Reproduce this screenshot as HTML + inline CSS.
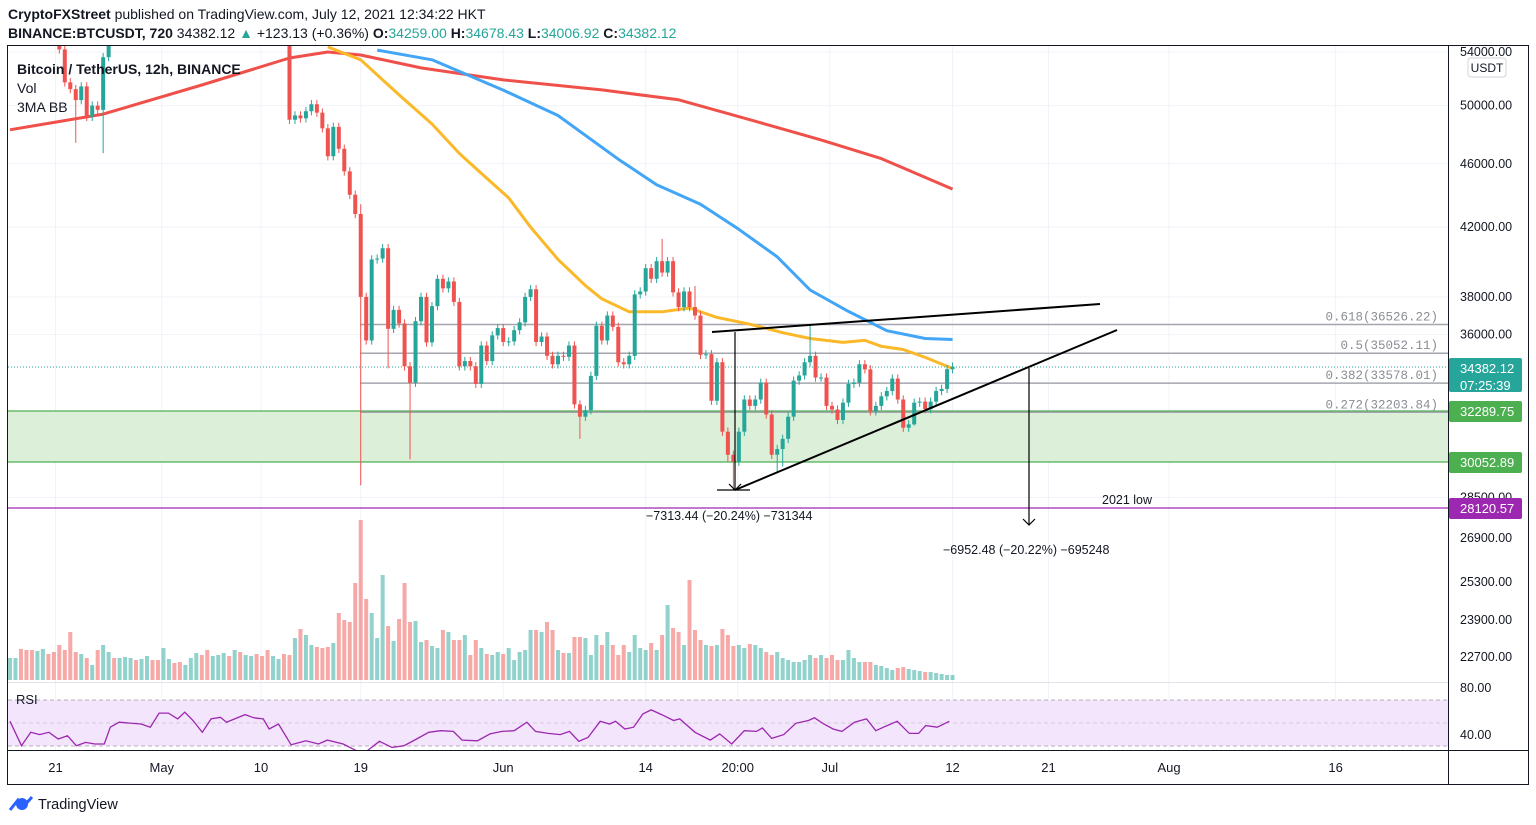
<!DOCTYPE html>
<html><head><meta charset="utf-8"><style>
body{margin:0;background:#fff;width:1536px;height:825px;overflow:hidden;font-family:"Liberation Sans",sans-serif}
svg{display:block}
</style></head><body>
<svg id="c" width="1536" height="825" viewBox="0 0 1536 825" xmlns="http://www.w3.org/2000/svg">
<defs><clipPath id="pc"><rect x="8" y="46" width="1440" height="636"/></clipPath>
<clipPath id="rc"><rect x="8" y="684" width="1440" height="66"/></clipPath></defs>
<text x="8" y="19" font-size="14" fill="#131722"><tspan font-weight="bold">CryptoFXStreet</tspan> published on TradingView.com, July 12, 2021 12:34:22 HKT</text>
<text x="8" y="38" font-size="14" fill="#131722"><tspan font-weight="bold">BINANCE:BTCUSDT, 720</tspan> 34382.12 <tspan fill="#26a69a">▲</tspan> +123.13 (+0.36%) <tspan font-weight="bold">O:</tspan><tspan fill="#26a69a">34259.00</tspan> <tspan font-weight="bold">H:</tspan><tspan fill="#26a69a">34678.43</tspan> <tspan font-weight="bold">L:</tspan><tspan fill="#26a69a">34006.92</tspan> <tspan font-weight="bold">C:</tspan><tspan fill="#26a69a">34382.12</tspan></text>
<g id="grid"></g>
<rect x="8" y="411" width="1440" height="51" fill="#dcefd9"/>
<line x1="8" y1="411" x2="1448" y2="411" stroke="#4caf50" stroke-width="1.2"/>
<line x1="8" y1="462" x2="1448" y2="462" stroke="#4caf50" stroke-width="1.2"/>
<g id="vol" clip-path="url(#pc)"></g>
<g id="fib"></g>
<line x1="8" y1="508" x2="1448" y2="508" stroke="#9c27b0" stroke-width="1.2"/>
<line x1="8" y1="367" x2="1448" y2="367" stroke="#26a69a" stroke-width="1" stroke-dasharray="1,2"/>
<g id="ma" clip-path="url(#pc)"></g>
<g id="candles" clip-path="url(#pc)"></g>
<g stroke="#000" stroke-width="2">
<line x1="712" y1="332" x2="1100" y2="304"/><line x1="735" y1="490" x2="1117" y2="330"/></g>
<g stroke="#000" stroke-width="1.2" fill="none">
<line x1="735" y1="332" x2="735" y2="490"/><line x1="717" y1="490" x2="750" y2="490"/><polyline points="729,484 735,490 741,484"/></g>
<text x="646" y="520" font-size="12.5" fill="#131722">−7313.44 (−20.24%) −731344</text>
<g stroke="#000" stroke-width="1.2" fill="none">
<line x1="1029" y1="368" x2="1029" y2="525"/><polyline points="1023,519 1029,525 1035,519"/></g>
<text x="943" y="554" font-size="12.5" fill="#131722">−6952.48 (−20.22%) −695248</text>
<text x="1102" y="504" font-size="12.5" fill="#131722">2021 low</text>
<g id="rsi">
<rect x="8" y="700" width="1440" height="46" fill="#f3e5fc"/>
<line x1="8" y1="700" x2="1448" y2="700" stroke="#b5b0b8" stroke-dasharray="4,3"/>
<line x1="8" y1="723" x2="1448" y2="723" stroke="#d5c9dc" stroke-dasharray="4,3"/>
<line x1="8" y1="746" x2="1448" y2="746" stroke="#b5b0b8" stroke-dasharray="4,3"/>
<text x="16" y="704" font-size="13" fill="#131722">RSI</text></g>
<g id="rsiLine" clip-path="url(#rc)"></g>
<text x="17" y="74" font-size="14" font-weight="bold" fill="#131722">Bitcoin / TetherUS, 12h, BINANCE</text>
<text x="17" y="93" font-size="14" fill="#131722">Vol</text>
<text x="17" y="112" font-size="14" fill="#131722">3MA BB</text>
<rect x="7.5" y="45.5" width="1521" height="739" fill="none" stroke="#131722"/>
<line x1="1448.5" y1="45" x2="1448.5" y2="785" stroke="#131722"/>
<line x1="8" y1="750.5" x2="1529" y2="750.5" stroke="#131722"/>
<line x1="8" y1="682.5" x2="1448" y2="682.5" stroke="#e0e3eb"/>
<g id="yaxis" font-size="12.5" fill="#131722"></g>
<rect x="1468" y="58" width="38" height="19" rx="3" fill="#fff" stroke="#d1d4dc"/>
<text x="1487" y="72" font-size="12" text-anchor="middle" fill="#131722">USDT</text>
<g id="tags" font-size="13" fill="#fff"></g>
<g id="xaxis" font-size="13" fill="#131722" text-anchor="middle"></g>
<g><circle cx="22" cy="804" r="6" fill="#2962ff"/><path d="M10 810 L18 800 L24 806 L32 797" stroke="#2962ff" stroke-width="3" fill="none"/>
<text x="38" y="809" font-size="14.5" fill="#131722">TradingView</text></g>
</svg>
<script>
const closes=[60000,61500,60500,56500,55500,56000,56500,56000,55500,54200,51700,51200,50400,51400,49200,50000,49700,53600,55500,54800,
55500,56500,57000,56800,57500,58000,57200,56800,57800,58200,57500,56500,57000,57500,58000,57300,56500,57000,57800,58500,
58000,58000,57000,57800,58200,57500,56500,55500,56000,57500,56000,
49000,49300,49100,49600,50100,49500,48400,46500,48500,47000,45500,44000,42800,
38000,35700,40100,40150,40750,36300,37300,36580,34400,33600,36700,38000,35600,37500,39000,38470,38850,37730,34400,34660,
34400,33540,35440,34660,35960,36340,35620,35650,36230,36640,38000,38420,35620,35900,34920,34500,34920,34870,35440,32570,
32000,32300,33930,36460,35700,37000,36400,34600,34500,34920,38140,38300,39600,39000,40000,39350,40000,38250,37450,38300,
37450,37000,34970,35000,32740,34600,31320,30300,30000,31320,32800,32500,32800,33600,32100,30300,30550,31000,32000,33700,
33950,34600,34920,33850,33850,32500,32330,31850,32650,33540,33600,34500,34250,32250,32500,32950,33200,33800,32800,31500,
31650,32650,32700,32350,32700,33200,33300,34259,34382.12];
const firstOpen=59000;
const wickHighs={68:41000,119:41300,64:43400,146:36500,125:38600};
const wickLows={12:47400,17:46700,64:29000,73:30100,104:31000,131:30000,132:28800,140:29500,141:29800,165:31600,69:34300};
const volumes=[22,22,31,30,30,29,31,26,28,35,30,48,28,26,22,15,30,35,28,22,22,23,22,20,21,24,20,20,32,21,17,18,15,22,27,25,30,24,25,27,24,30,28,25,24,26,
24,30,24,21,26,25,42,51,45,35,33,32,33,37,67,60,58,97,160,81,67,42,105,54,39,61,97,58,59,38,40,34,32,50,48,40,40,45,25,40,32,26,25,28,26,32,20,28,30,50,50,48,58,50,30,27,27,43,43,42,25,45,35,48,35,25,35,28,45,32,30,37,30,45,75,52,48,35,100,50,40,35,34,35,51,45,34,35,32,36,35,32,28,25,28,22,20,18,18,20,25,22,25,22,25,20,20,30,22,18,18,18,15,14,12,10,
12,13,11,10,9,8,8,7,6,5,5];
const ma200Idx=[0,17,35,51,58,64,75,90,108,122,135,148,159,172];
const ma200Val=[48300,49400,51500,53540,54000,53770,52780,51880,51140,50420,49000,47600,46340,44360];
const ma100Idx=[67,77,90,100,111,118,126,133,140,146,153,160,167,172];
const ma100Val=[54150,53400,51130,49300,46300,44640,43400,41870,40250,38380,37220,36200,35800,35750];
const ma50Idx=[58,64,71,77,82,86,91,95,100,105,108,113,119,124,129,135,141,146,152,156,159,163,167,172];
const ma50Val=[54400,53400,50780,48700,46680,45370,43800,42000,40100,38620,37900,37200,37200,37400,36900,36540,36100,35800,35600,35700,35400,35240,34840,34290];
const rsiIdx=[0,2.1,3.8,5.4,7.1,8.8,10.5,12.1,13.8,15.5,17.2,18.3,19.9,23.9,25.6,27.2,28.9,30.6,31.9,33.4,35.1,36.7,38.4,39.5,42.9,44.5,46.2,47.3,49,51.3,54,56.3,57.9,60.8,63.5,65.2,67.4,69.7,71.9,74.2,76.4,78.6,80.9,82.5,85.3,87.6,89.8,92,94.3,95.9,98.2,100.4,102.1,103.8,105.5,107.7,109.4,110.5,112.2,113.8,115.5,117,118.9,121.1,122.2,125,127.8,129.5,131.7,134,136.2,137.3,139,141.2,143.4,145.7,146.8,148.5,150.2,151.8,154.1,156.3,158,159.6,161.9,164.1,165.8,167.1,169.2,171.4];
const rsiVal=[51.7,30.9,42.3,40.3,42.3,36.6,39.4,30.9,33.7,32.3,32.3,46.6,50.9,49.4,46.6,58.6,58.6,53.7,59.4,52.3,42.3,53.7,55.1,50.9,57.4,54.6,53.7,45.1,49.4,31.7,35.1,32.3,35.7,32.3,26,26.6,34.6,29.4,30.9,36.6,42.3,43.7,43.1,35.7,35.1,40.9,43.1,43.7,50.9,43.1,41.4,40.3,43.1,34.6,38,51.7,49.4,51.7,45.1,46.6,58,61.4,57.4,52.3,53.7,42.3,35.7,40.9,32.3,43.7,43.1,46,37.1,40.3,50,52.3,54.6,49.4,45.1,43.1,50.9,53.7,43.7,47.1,51.7,41.4,41.4,48,46.6,51.7];
const fibLevels=[0.618,0.5,0.382,0.272];
const fibPrices=[36526.22,35052.11,33578.01,32203.84];
const priceTicks=[54000,50000,46000,42000,38000,36000,32000,28500];
const volTickLabels=["26900.00","25300.00","23900.00","22700.00"];
const rsiTicks=[80,40];
const timeLabels=["21","May","10","19","Jun","14","20:00","Jul","12","21","Aug","16"];
const timeIdx=[8.3,27.7,45.8,64,90,116,132.8,149.6,172,189.5,211.5,241.9];

const NS="http://www.w3.org/2000/svg";
function mk(tag,attrs,parent){const e=document.createElementNS(NS,tag);for(const k in attrs)e.setAttribute(k,attrs[k]);parent.appendChild(e);return e;}
const X0=10,DX=5.48;
function xs(i){return X0+i*DX;}
function ys(p){return 52+697*Math.log(54000/p);}
const VB=680,VS=1.0;
function yv(v){return VB-v*VS;}
function yr(r){return 688+(80-r)*1.175;}
const G=document.getElementById('grid');
priceTicks.forEach(p=>{const l=mk('line',{x1:8,x2:1448,y1:ys(p),y2:ys(p),stroke:'#f0f3fa'},G);

});
timeIdx.forEach(t=>{const l=mk('line',{x1:xs(t),x2:xs(t),y1:46,y2:750,stroke:'#f0f3fa'},G);

});
const V=document.getElementById('vol');
const C=document.getElementById('candles');
for(let i=0;i<closes.length;i++){
 const o=i?closes[i-1]:firstOpen,c=closes[i];const up=c>=o;
 const hi=wickHighs[i]||Math.max(o,c)*1.006,lo=wickLows[i]||Math.min(o,c)*0.994;
 const x=xs(i);const v=volumes[i]||5;
 const vb=mk('rect',{x:x-2,y:yv(v),width:4,height:v*VS,fill:up?'rgba(38,166,154,0.5)':'rgba(239,83,80,0.5)'},V);
 
 
 const col=up?'#26a69a':'#ef5350';
 const w=mk('line',{x1:x,x2:x,y1:ys(hi),y2:ys(lo),stroke:col,'stroke-width':1},C);
 
 
 const t=Math.min(ys(o),ys(c)),h=Math.max(1,Math.abs(ys(o)-ys(c)));
 const b=mk('rect',{x:x-2,y:t,width:4,height:h,fill:col},C);
 
 
}
const M=document.getElementById('ma');
function maLine(idx,val,col,name){const pts=idx.map((t,k)=>xs(t).toFixed(1)+','+ys(val[k]).toFixed(1)).join(' ');
 const p=mk('polyline',{points:pts,fill:'none',stroke:col,'stroke-width':3,'stroke-linejoin':'round'},M);
 
 }
maLine(ma200Idx,ma200Val,'#f0504a','ma-200');
maLine(ma100Idx,ma100Val,'#42a5f5','ma-100');
maLine(ma50Idx,ma50Val,'#fbb829','ma-50');
const F=document.getElementById('fib');
fibPrices.forEach((p,k)=>{const y=ys(p);
 const l=mk('line',{x1:360,x2:1448,y1:y,y2:y,stroke:'#a3a6ad','stroke-width':1.5},F);
 
 
 const t=mk('text',{x:1438,y:y-4,'font-size':12.5,fill:'#8a8d94','text-anchor':'end','font-family':'Liberation Mono, monospace'},F);
 t.textContent=fibLevels[k]+'('+p.toFixed(2)+')';
 
 });
const R=document.getElementById('rsiLine');
const rp=mk('polyline',{points:rsiIdx.map((t,k)=>xs(t).toFixed(1)+','+yr(rsiVal[k]).toFixed(1)).join(' '),fill:'none',stroke:'#9c27b0','stroke-width':1.3},R);


const Y=document.getElementById('yaxis');
priceTicks.forEach(p=>{const t=mk('text',{x:1460,y:ys(p)+4},Y);t.textContent=p.toFixed(2);
 
 });
[538,582,620,657].forEach((y,k)=>{const t=mk('text',{x:1460,y:y+4},Y);t.textContent=volTickLabels[k];
 
 });
rsiTicks.forEach(r=>{const t=mk('text',{x:1460,y:yr(r)+4},Y);t.textContent=r.toFixed(2);
 
 });
const T=document.getElementById('tags');
function tag(y,h,col,lines,name){const r=mk('rect',{x:1449,y:y,width:73,height:h,rx:2,fill:col},T);
 
 
 lines.forEach((s,k)=>{const t=mk('text',{x:1460,y:y+15+k*17},T);t.textContent=s;});}
tag(358,34,'#26a69a',['34382.12','07:25:39'],'last-price-tag');
tag(401,21,'#4caf50',['32289.75'],'zone-top-tag');
tag(452,21,'#4caf50',['30052.89'],'zone-bottom-tag');
tag(498,21,'#9c27b0',['28120.57'],'low-2021-tag');
const XA=document.getElementById('xaxis');
timeLabels.forEach((s,k)=>{const t=mk('text',{x:xs(timeIdx[k]),y:772},XA);t.textContent=s;
 
 });
</script>
</body></html>
